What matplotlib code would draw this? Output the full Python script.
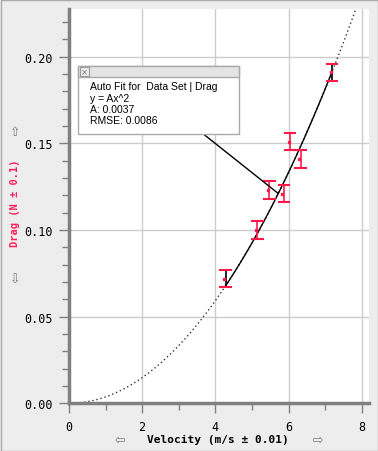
import numpy as np
import matplotlib.pyplot as plt
from matplotlib.patches import Rectangle
from matplotlib.ticker import MultipleLocator

# Data
velocity = [4.28, 5.15, 5.48, 5.87, 6.05, 6.33, 7.19]
drag = [0.072, 0.100, 0.123, 0.121, 0.151, 0.141, 0.191]
drag_err = [0.005, 0.005, 0.005, 0.005, 0.005, 0.005, 0.005]
bar_colors = ["black", "#ff1a4a", "#ff1a4a", "#ff1a4a", "#ff1a4a", "#ff1a4a", "black"]
fit_A = 0.0037
fit_rmse = 0.0086

W, H = 378, 452
fig = plt.figure(figsize=(W / 100, H / 100), dpi=100)
fig.patch.set_facecolor("#ededed")

ax = fig.add_axes([69 / W, 1 - 404.3 / H, 300 / W, (404.3 - 10) / H])
ax.set_xlim(0, 8.2)
ax.set_ylim(0, 0.2275)

# Grid
ax.set_axisbelow(True)
ax.grid(True, color="#cccccc", linewidth=1)

# Fit curve: dotted over the full range, solid over the data range
xx = np.linspace(0.3, 8.2, 300)
ax.plot(xx, fit_A * xx**2, color="#333333", linestyle=(0, (1, 2)),
        linewidth=1)
xs = np.linspace(min(velocity), max(velocity), 100)
ax.plot(xs, fit_A * xs**2, color="black", linewidth=1)

# Error bars (red caps, stem colour per point)
for x, y, e, c in zip(velocity, drag, drag_err, bar_colors):
    ax.plot([x, x], [y - e, y + e], color=c, lw=1.2, zorder=3)
    ax.plot([x - 0.14, x + 0.14], [y - e, y - e], color="#ff1a4a", lw=1.5,
            zorder=3)
    ax.plot([x - 0.14, x + 0.14], [y + e, y + e], color="#ff1a4a", lw=1.5,
            zorder=3)
    ax.plot(x - 0.04, y, marker="s", markersize=1.5, color="#ff1a4a",
            linestyle="none", zorder=4)

# Axes styling
for s in ["top", "right"]:
    ax.spines[s].set_visible(False)
for s in ["left", "bottom"]:
    ax.spines[s].set_color("#808080")
    ax.spines[s].set_linewidth(2.5)

ax.xaxis.set_major_locator(MultipleLocator(2))
ax.xaxis.set_minor_locator(MultipleLocator(1))
ax.yaxis.set_major_locator(MultipleLocator(0.05))
ax.yaxis.set_minor_locator(MultipleLocator(0.01))
ax.yaxis.set_major_formatter(plt.FormatStrFormatter("%.2f"))
ax.tick_params(which="major", direction="out", length=7, width=1,
               color="#808080", labelsize=8.5, pad=5)
ax.tick_params(which="minor", direction="out", length=5, width=1,
               color="#808080")
for lab in ax.get_xticklabels() + ax.get_yticklabels():
    lab.set_family("DejaVu Sans Mono")

# Axis labels with arrows
fig.text(218 / W, 1 - 440 / H, "Velocity (m/s ± 0.01)", ha="center",
         va="center", fontsize=8, fontweight="bold",
         family="DejaVu Sans Mono")
fig.text(120 / W, 1 - 440 / H, "⇦", ha="center", va="center", fontsize=9,
         color="#777777")
fig.text(318 / W, 1 - 440 / H, "⇨", ha="center", va="center", fontsize=9,
         color="#777777")
fig.text(15 / W, 1 - 203 / H, "Drag (N ± 0.1)", ha="center", va="center",
         rotation=90, fontsize=7.5, fontweight="bold",
         family="DejaVu Sans Mono", color="#ff1f5a")
fig.text(15 / W, 1 - 133 / H, "⇧", ha="center", va="center", fontsize=9,
         color="#777777")
fig.text(15 / W, 1 - 280 / H, "⇩", ha="center", va="center", fontsize=9,
         color="#777777")

# Fit annotation box
bx0, by0, bx1, by1 = 78, 67, 239, 135
fig.patches.append(Rectangle((bx0 / W, 1 - by1 / H), (bx1 - bx0) / W,
                             (by1 - by0) / H, transform=fig.transFigure,
                             facecolor="white", edgecolor="#aaaaaa", lw=1,
                             zorder=5))
fig.patches.append(Rectangle((bx0 / W, 1 - (by0 + 11) / H), (bx1 - bx0) / W,
                             11 / H, transform=fig.transFigure,
                             facecolor="#e4e4e4", edgecolor="#aaaaaa", lw=1,
                             zorder=6))
fig.patches.append(Rectangle((80 / W, 1 - 77 / H), 9 / W, 9 / H,
                             transform=fig.transFigure, facecolor="#eeeeee",
                             edgecolor="#999999", lw=0.8, zorder=7))
fig.text(84.5 / W, 1 - 72.5 / H, "×", ha="center", va="center", fontsize=6,
         color="#777777", zorder=8)
box_lines = ["Auto Fit for  Data Set | Drag", "y = Ax^2",
             f"A: {fit_A:.4f}", f"RMSE: {fit_rmse:.4f}"]
for i, t in enumerate(box_lines):
    fig.text(90 / W, 1 - (87 + 11.5 * i) / H, t, ha="left", va="center",
             fontsize=7.5, family="Liberation Sans", zorder=8)

# Leader line from box to fit curve
xt = 5.72
ax.annotate("", xy=(xt, fit_A * xt**2),
            xytext=(204 / W, 1 - 135.5 / H), textcoords="figure fraction",
            arrowprops=dict(arrowstyle="-", color="black", lw=1,
                            shrinkA=0, shrinkB=0))

# Outer frame
fig.patches.append(Rectangle((0.5 / W, 0.5 / H), (W - 1) / W, (H - 1) / H,
                             transform=fig.transFigure, facecolor="none",
                             edgecolor="#aaaaaa", lw=1))

fig.savefig("out.png", dpi=100)
